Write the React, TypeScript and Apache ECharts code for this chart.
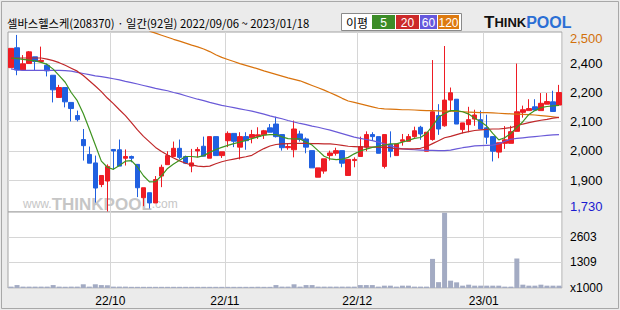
import React, { useEffect, useRef } from 'react';
import * as echarts from 'echarts';

const monthDays: [string, number[]][] = [
  ['2022/09', [6, 7, 8, 13, 14, 15, 16, 19, 20, 21, 22, 23, 26, 27, 28, 29, 30]],
  ['2022/10', [4, 5, 6, 7, 11, 12, 13, 14, 17, 18, 19, 20, 21, 24, 25, 26, 27, 28, 31]],
  ['2022/11', [1, 2, 3, 4, 7, 8, 9, 10, 11, 14, 15, 16, 17, 18, 21, 22, 23, 24, 25, 28, 29, 30]],
  ['2022/12', [1, 2, 5, 6, 7, 8, 9, 12, 13, 14, 15, 16, 19, 20, 21, 22, 23, 26, 27, 28, 29]],
  ['2023/01', [2, 3, 4, 5, 6, 9, 10, 11, 12, 13, 16, 17, 18]],
];
const dates: string[] = monthDays.flatMap(([m, ds]) => ds.map((d) => `${m}/${String(d).padStart(2, '0')}`));

const opens = [
  2285, 2353, 2277, 2299, 2322, 2306, 2293, 2259, 2183, 2217,
  2166, 2121, 2039, 1988, 1959, 1885, 1897, 2005, 2004, 1975,
  1981, 1954, 1840, 1857, 1822, 1914, 1953, 1981, 2009, 1981,
  1948, 2000, 2016, 1975, 2049, 1984, 2035, 2060, 2013, 2049,
  2045, 2050, 2055, 2079, 2092, 2056, 2011, 2004, 2058, 2041,
  2001, 1910, 1931, 1984, 1992, 2001, 1916, 1967, 1981, 2013,
  2056, 2049, 1947, 2022, 1984, 2033, 2033, 2049, 2081, 1999,
  2039, 2121, 2086, 2174, 2177, 2073, 2090, 2109, 2107, 2079,
  2049, 1996, 2026, 2026, 2067, 2132, 2138, 2151, 2138, 2160,
  2168, 2157,
];
const closes = [
  2351, 2277, 2298, 2339, 2306, 2310, 2274, 2209, 2217, 2168,
  2145, 2107, 2018, 1958, 1873, 1916, 1947, 2000, 1948, 1981,
  1975, 1874, 1874, 1822, 1902, 1944, 1984, 2009, 1978, 1958,
  1959, 2005, 1982, 2049, 1984, 1997, 2060, 2033, 2049, 2035,
  2056, 2055, 2069, 2064, 2049, 2011, 2015, 2075, 2039, 2013,
  1942, 1942, 1973, 1993, 2001, 1958, 1971, 1971, 2015, 2056,
  2049, 1992, 2056, 1999, 2024, 2038, 2049, 2069, 2058, 2064,
  2134, 2075, 2174, 2199, 2092, 2096, 2107, 2123, 2075, 2047,
  1999, 2028, 2038, 2066, 2134, 2141, 2145, 2140, 2163, 2169,
  2135, 2200,
];
const lows = [
  2285, 2259, 2277, 2299, 2274, 2305, 2255, 2166, 2183, 2149,
  2101, 2101, 1967, 1958, 1823, 1876, 1793, 1936, 1948, 1950,
  1961, 1842, 1811, 1803, 1822, 1876, 1953, 1981, 1971, 1955,
  1927, 1978, 1982, 1975, 1984, 1976, 2013, 2013, 1971, 2004,
  2026, 2041, 2041, 2064, 2046, 2001, 2004, 1978, 2032, 1992,
  1942, 1910, 1922, 1967, 1984, 1944, 1916, 1944, 1981, 1999,
  2035, 1992, 1940, 1978, 1984, 2018, 2033, 2045, 2038, 1999,
  2035, 2055, 2083, 2134, 2092, 2060, 2064, 2086, 2075, 2024,
  1964, 1975, 2007, 2026, 2067, 2114, 2138, 2138, 2138, 2160,
  2135, 2157,
];
const highs = [
  2351, 2397, 2328, 2342, 2322, 2357, 2299, 2259, 2226, 2217,
  2166, 2138, 2075, 2015, 1984, 1916, 1954, 2005, 2039, 2005,
  1984, 1954, 1874, 1857, 1914, 1953, 1999, 2032, 2039, 1984,
  2007, 2013, 2049, 2049, 2049, 1997, 2067, 2060, 2064, 2064,
  2072, 2081, 2072, 2092, 2117, 2056, 2026, 2104, 2069, 2046,
  2001, 1942, 1973, 2001, 2011, 2001, 1971, 1978, 2049, 2067,
  2064, 2049, 2056, 2067, 2024, 2058, 2058, 2083, 2086, 2064,
  2311, 2160, 2359, 2217, 2177, 2096, 2151, 2141, 2138, 2124,
  2049, 2028, 2085, 2086, 2299, 2155, 2177, 2177, 2198, 2198,
  2206, 2226,
];

const ma5 = [
  2318, 2316, 2313, 2311, 2308, 2303, 2296, 2280, 2258, 2235,
  2200, 2172, 2128, 2075, 2020, 1965, 1944, 1937, 1950, 1965,
  1967, 1945, 1915, 1894, 1895, 1915, 1940, 1955, 1968, 1981,
  1981, 1979, 1984, 1995, 2005, 2012, 2019, 2025, 2030, 2036,
  2042, 2048, 2054, 2056, 2056, 2048, 2042, 2041, 2041, 2030,
  2020, 2001, 1982, 1973, 1970, 1972, 1978, 1990, 2000, 2006,
  2012, 2016, 2020, 2024, 2024, 2030, 2036, 2043, 2046, 2060,
  2086, 2115, 2128, 2138, 2138, 2134, 2126, 2112, 2100, 2085,
  2060, 2038, 2045, 2060, 2080, 2100, 2125, 2138, 2148, 2152,
  2154, 2156,
];
const ma20 = [
  2317, 2318, 2318, 2318, 2318, 2318, 2314, 2309, 2302, 2293,
  2283, 2273, 2258, 2240, 2222, 2203, 2181, 2162, 2141, 2121,
  2097, 2072, 2050, 2031, 2012, 1998, 1986, 1976, 1966, 1958,
  1952, 1948, 1946, 1948, 1956, 1963, 1968, 1972, 1976, 1980,
  1985, 1997, 2008, 2017, 2022, 2024, 2025, 2026, 2026, 2026,
  2025, 2025, 2024, 2024, 2022, 2019, 2016, 2015, 2014, 2014,
  2013, 2013, 2012, 2011, 2007, 2007, 2007, 2007, 2009, 2015,
  2025, 2035, 2045, 2050, 2056, 2062, 2066, 2070, 2072, 2074,
  2075, 2075, 2077, 2080, 2086, 2092, 2097, 2101, 2105, 2108,
  2112, 2115,
];
const ma60 = [
  2281, 2277, 2276, 2276, 2276, 2276, 2276, 2276, 2276, 2275,
  2273, 2269, 2265, 2261, 2257, 2254, 2251, 2247, 2243, 2238,
  2234, 2229, 2224, 2219, 2214, 2210, 2206, 2200, 2195, 2189,
  2183, 2177, 2172, 2166, 2161, 2156, 2152, 2148, 2144, 2140,
  2136, 2131, 2126, 2120, 2115, 2110, 2104, 2099, 2094, 2090,
  2085, 2081, 2076, 2071, 2065, 2059, 2053, 2047, 2043, 2039,
  2035, 2030, 2024, 2018, 2011, 2007, 2005, 2004, 2003, 2002,
  2002, 2001, 2001, 2003, 2007, 2011, 2014, 2017, 2018, 2019,
  2020, 2024, 2033, 2040, 2043, 2045, 2047, 2049, 2051, 2053,
  2055, 2056,
];
const ma120 = [
  null, null, null, null, null, null, null, null, null, null,
  null, null, null, null, null, null, null, null, null, null,
  null, null, null, 2410, 2403, 2396, 2389, 2382, 2376, 2369,
  2362, 2356, 2349, 2340, 2329, 2320, 2313, 2306, 2299, 2293,
  2287, 2281, 2274, 2268, 2262, 2256, 2250, 2245, 2240, 2232,
  2224, 2216, 2208, 2199, 2190, 2180, 2171, 2166, 2161, 2156,
  2151, 2146, 2144, 2143, 2142, 2141, 2141, 2140, 2139, 2138,
  2138, 2137, 2136, 2136, 2135, 2134, 2133, 2132, 2131, 2131,
  2130, 2129, 2128, 2127, 2126, 2125, 2124, 2123, 2121, 2119,
  2117, 2114,
];
const volumes = [
  70, 150, 70, 70, 70, 70, 70, 150, 70, 70,
  70, 70, 190, 70, 190, 150, 140, 70, 70, 70,
  60, 60, 60, 60, 60, 60, 60, 60, 60, 60,
  60, 60, 60, 60, 60, 60, 60, 60, 60, 60,
  60, 60, 60, 60, 150, 70, 70, 190, 70, 150,
  150, 70, 70, 70, 70, 70, 70, 70, 150, 150,
  150, 70, 120, 120, 70, 120, 120, 70, 70, 70,
  1490, 300, 3850, 375, 290, 120, 170, 120, 120, 120,
  120, 120, 70, 70, 1510, 170, 120, 120, 170, 120,
  120, 120,
];

const priceTicks = [1900, 2000, 2100, 2200, 2300];
const priceTickLabels = ['1,900', '2,000', '2,100', '2,200', '2,400'];
const priceMaxLabel = '2,500';
const priceMinLabel = '1,730';
const volTicks = [0, 1309, 2603];
const volTickLabels = ['x1000', '1309', '2603'];
const titleText = '셀바스헬스케(208370) · 일간(92일) 2022/09/06 ~ 2023/01/18';
const maLegend = [
  { label: '5', color: '#3c8c28' },
  { label: '20', color: '#cc2a2a' },
  { label: '60', color: '#6658dc' },
  { label: '120', color: '#dd7a10' },
];

const monthStart = new Set<number>();
dates.forEach((d, i) => {
  if (i > 0 && d.slice(0, 7) !== dates[i - 1].slice(0, 7)) monthStart.add(i);
});

const NUM_FONT = 'Liberation Sans, Arial, sans-serif';
const KR_FONT = '"Noto Sans CJK KR", "Noto Sans", sans-serif';
const GRID_LINE = '#d6d6d6';
const BORDER = '#a2a2a2';

export default function App() {
  const ref = useRef<HTMLDivElement>(null);
  useEffect(() => {
    if (!ref.current) return;
    const chart = echarts.init(ref.current, null, { renderer: 'svg' });
    const legendX = [372, 396, 420, 438];
    const legendW = [23, 23, 17, 21];
    const option: any = {
      animation: false,
      backgroundColor: '#ebebeb',
      grid: [
        { left: 8, top: 32, width: 554, height: 180, show: true, backgroundColor: '#ffffff', borderColor: BORDER, borderWidth: 1 },
        { left: 8, top: 212, width: 554, height: 76, show: true, backgroundColor: '#ffffff', borderColor: BORDER, borderWidth: 1 },
      ],
      xAxis: [
        {
          type: 'category', gridIndex: 0, data: dates, boundaryGap: true,
          axisLine: { show: false }, axisTick: { show: false }, axisLabel: { show: false },
          splitLine: { show: true, interval: (i: number) => monthStart.has(i), lineStyle: { color: GRID_LINE, width: 1 } },
        },
        {
          type: 'category', gridIndex: 1, data: dates, boundaryGap: true,
          axisLine: { show: false }, axisTick: { show: false },
          axisLabel: {
            show: true, interval: (i: number) => monthStart.has(i),
            formatter: (v: string) => `${v.slice(2, 4)}/${v.slice(5, 7)}`,
            color: '#000', fontSize: 12, fontFamily: NUM_FONT, margin: 7, padding: [0, 6, 0, 0],
          },
          splitLine: { show: true, interval: (i: number) => monthStart.has(i), lineStyle: { color: GRID_LINE, width: 1 } },
        },
      ],
      yAxis: [
        {
          type: 'value', gridIndex: 0, position: 'right', min: 1791, max: 2407, scale: true,
          axisLine: { show: false },
          axisTick: { show: false, customValues: priceTicks },
          splitLine: { show: true, lineStyle: { color: GRID_LINE, width: 1 } },
          axisLabel: {
            customValues: priceTicks,
            formatter: (v: number) => priceTickLabels[priceTicks.indexOf(v)] ?? '',
            color: '#000', fontSize: 13, fontFamily: NUM_FONT, margin: 8,
          },
        },
        {
          type: 'value', gridIndex: 1, position: 'right', min: 0, max: 3890,
          axisLine: { show: false },
          axisTick: { show: false, customValues: volTicks },
          splitLine: { show: true, lineStyle: { color: GRID_LINE, width: 1 } },
          axisLabel: {
            customValues: volTicks,
            formatter: (v: number) => volTickLabels[volTicks.indexOf(v)] ?? '',
            color: '#000', fontSize: 12, fontFamily: NUM_FONT, margin: 8,
          },
        },
      ],
      series: [
        {
          type: 'candlestick', xAxisIndex: 0, yAxisIndex: 0, barWidth: 5, z: 2,
          data: opens.map((o, i) => [o, closes[i], lows[i], highs[i]]),
          itemStyle: { color: '#ee1c24', color0: '#2060e0', borderColor: '#ee1c24', borderColor0: '#2060e0', borderWidth: 1 },
        },
        { type: 'line', xAxisIndex: 0, yAxisIndex: 0, data: ma120, symbol: 'none', z: 3, lineStyle: { color: '#d9730d', width: 1.2 } },
        { type: 'line', xAxisIndex: 0, yAxisIndex: 0, data: ma60, symbol: 'none', z: 3, lineStyle: { color: '#6a5ad8', width: 1.2 } },
        { type: 'line', xAxisIndex: 0, yAxisIndex: 0, data: ma20, symbol: 'none', z: 3, lineStyle: { color: '#c0282a', width: 1.2 } },
        { type: 'line', xAxisIndex: 0, yAxisIndex: 0, data: ma5, symbol: 'none', z: 3, lineStyle: { color: '#3f9420', width: 1.2 } },
        {
          type: 'bar', xAxisIndex: 1, yAxisIndex: 1, data: volumes, barWidth: 5,
          itemStyle: { color: '#a3abc3' },
        },
      ],
      graphic: [
        { type: 'rect', z: 10, shape: { x: 1.5, y: 1.5, width: 617, height: 307 }, style: { fill: 'none', stroke: '#a8a8a8', lineWidth: 1 } },
        { type: 'text', z: 10, x: 7, y: 23, style: { text: titleText, font: `11.3px ${KR_FONT}`, fill: '#000', verticalAlign: 'middle' } },
        { type: 'rect', z: 10, shape: { x: 341.5, y: 13.5, width: 120, height: 17 }, style: { fill: '#ffffff', stroke: '#8a8a8a', lineWidth: 1 } },
        { type: 'text', z: 11, x: 346, y: 22, style: { text: '이평', font: `12px ${KR_FONT}`, fill: '#000', verticalAlign: 'middle' } },
        ...maLegend.flatMap((m, k) => [
          { type: 'rect', z: 11, shape: { x: legendX[k], y: 15, width: legendW[k], height: 14 }, style: { fill: m.color } },
          { type: 'text', z: 12, x: legendX[k] + legendW[k] / 2, y: 22.5, style: { text: m.label, font: `12px ${NUM_FONT}`, fill: '#fff', align: 'center', verticalAlign: 'middle' } },
        ]),
        {
          type: 'text', z: 10, x: 484, y: 22,
          style: {
            text: '{t|T}{h|HINK}{p|POOL}', verticalAlign: 'middle',
            rich: {
              t: { font: `bold 17px ${NUM_FONT}`, fill: '#111' },
              h: { font: `bold 13px ${NUM_FONT}`, fill: '#111' },
              p: { font: `bold 16px ${NUM_FONT}`, fill: '#2b6fd5' },
            },
          },
        },
        {
          type: 'text', z: 1, x: 23, y: 204,
          style: {
            text: '{a|www.}{b|THINKPOOL}{a|.com}', verticalAlign: 'middle',
            rich: {
              a: { font: `12px ${NUM_FONT}`, fill: '#c6c6c6' },
              b: { font: `bold 17px ${NUM_FONT}`, fill: '#c6c6c6' },
            },
          },
        },
        { type: 'text', z: 10, x: 570, y: 38, style: { text: priceMaxLabel, font: `13px ${NUM_FONT}`, fill: '#d2700a', verticalAlign: 'middle' } },
        { type: 'text', z: 10, x: 570, y: 206, style: { text: priceMinLabel, font: `13px ${NUM_FONT}`, fill: '#1a1ad0', verticalAlign: 'middle' } },
      ],
    };
    chart.setOption(option);
    return () => chart.dispose();
  }, []);
  return <div ref={ref} style={{ position: 'absolute', left: 0, top: 0, width: 620, height: 310 }} />;
}
